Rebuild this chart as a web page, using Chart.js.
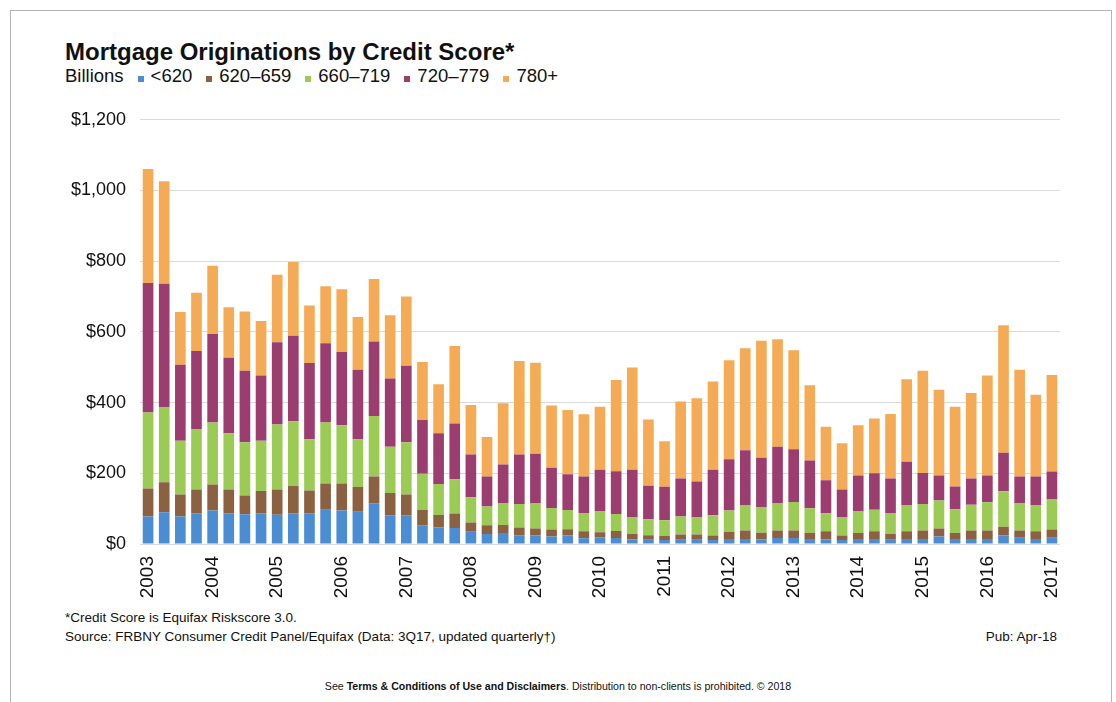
<!DOCTYPE html>
<html>
<head>
<meta charset="utf-8">
<script src="https://cdn.jsdelivr.net/npm/chart.js@4.4.1/dist/chart.umd.min.js"></script>
<style>
  body { margin: 0; width: 1116px; height: 702px; background: #fff; overflow: hidden; position: relative;
         font-family: 'Liberation Sans', Arial, sans-serif; color: #111; }
  .frame { position: absolute; left: 10px; top: 10px; width: 1100px; height: 720px; border: 1px solid #b4b4b4; }
  .title { position: absolute; left: 65px; top: 40px; font-size: 24px; line-height: 24px; font-weight: bold; }
  .legend { position: absolute; left: 65px; top: 67px; font-size: 18.5px; line-height: 18.5px; white-space: nowrap; }
  .legend span { display: inline-block; }
  .legend .sw { width: 6px; height: 6px; margin: 0 7px 0 0; }
  .legend .item { margin-left: 14px; }
  .note { position: absolute; font-size: 13.5px; line-height: 14px; white-space: nowrap; }
  .terms { position: absolute; left: 0; width: 1116px; top: 680px; text-align: center; font-size: 10.6px; line-height: 12px; }
  #chart { position: absolute; left: 30px; top: 95px; }
</style>
</head>
<body>
<div class="frame"></div>
<div class="title">Mortgage Originations by Credit Score*</div>
<div class="legend" id="legend">Billions</div>
<canvas id="chart" width="1060" height="509"></canvas>
<div class="note" style="left:65px; top:611px;">*Credit Score is Equifax Riskscore 3.0.</div>
<div class="note" style="left:65px; top:630px;">Source: FRBNY Consumer Credit Panel/Equifax (Data: 3Q17, updated quarterly†)</div>
<div class="note" style="right:59px; top:630px;">Pub: Apr-18</div>
<div class="terms">See <b>Terms &amp; Conditions of Use and Disclaimers</b>. Distribution to non-clients is prohibited. © 2018</div>
<script>
// quarters 2003Q3 .. 2017Q3, year label shown on every Q3
const quarters = [
  '2003Q3','2003Q4',
  '2004Q1','2004Q2','2004Q3','2004Q4',
  '2005Q1','2005Q2','2005Q3','2005Q4',
  '2006Q1','2006Q2','2006Q3','2006Q4',
  '2007Q1','2007Q2','2007Q3','2007Q4',
  '2008Q1','2008Q2','2008Q3','2008Q4',
  '2009Q1','2009Q2','2009Q3','2009Q4',
  '2010Q1','2010Q2','2010Q3','2010Q4',
  '2011Q1','2011Q2','2011Q3','2011Q4',
  '2012Q1','2012Q2','2012Q3','2012Q4',
  '2013Q1','2013Q2','2013Q3','2013Q4',
  '2014Q1','2014Q2','2014Q3','2014Q4',
  '2015Q1','2015Q2','2015Q3','2015Q4',
  '2016Q1','2016Q2','2016Q3','2016Q4',
  '2017Q1','2017Q2','2017Q3'
];
const yTicks = [0, 200, 400, 600, 800, 1000, 1200];

const seriesNames = ['<620', '620–659', '660–719', '720–779', '780+'];
const seriesColors = ['#4a8dd2', '#8c6142', '#9bcb55', '#9c3d70', '#f5ab55'];

// billions of dollars, per quarter
const lt620 = [78,90,78,87,95,87,84,87,83,87, 87,97,95,91,115,81,81,53,47,45,
  35,28,31,25,24,21,24,16,19,17, 13,12,11,12,12,11,14,14,13,17,
  17,14,13,11,14,14,12,14,14,21, 14,14,14,24,18,14,18];
const s620_659 = [79,85,62,67,73,67,53,63,71,77, 64,74,76,70,76,63,59,43,35,41,
  26,25,23,22,20,20,18,20,14,20, 15,13,12,15,15,13,21,24,19,21,
  21,18,23,13,17,22,16,22,24,23, 17,24,24,25,20,22,23];
const s660_719 = [215,211,152,170,176,159,151,142,184,183, 145,173,165,135,171,131,148,103,88,97,
  71,53,62,66,72,61,54,52,59,48, 47,45,44,51,48,57,60,72,71,78,
  81,69,51,51,61,61,58,74,75,79, 67,73,80,100,78,74,85];
const s720_779 = [366,350,215,222,250,214,202,185,233,242, 216,224,207,197,211,193,216,152,143,158,
  121,85,109,140,139,114,101,103,118,121, 135,95,95,107,102,129,145,155,141,159,
  149,135,93,79,102,103,99,123,88,71, 65,74,76,109,75,81,79];
const s780plus = [323,290,149,165,193,143,168,154,191,209, 163,161,178,149,177,179,196,164,139,219,
  140,112,173,265,258,176,182,176,178,258, 289,187,129,218,235,250,280,289,331,304,
  280,213,152,131,142,155,183,233,289,242, 225,242,283,361,302,231,273];

const seriesData = [lt620, s620_659, s660_719, s720_779, s780plus];

// legend
const legend = document.getElementById('legend');
seriesNames.forEach((name, i) => {
  const item = document.createElement('span');
  item.className = 'item';
  item.innerHTML = '<span class="sw" style="background:' + seriesColors[i] + '"></span>' + name;
  legend.appendChild(item);
});

const fontFamily = "'Liberation Sans', Arial, sans-serif";

new Chart(document.getElementById('chart'), {
  type: 'bar',
  data: {
    labels: quarters,
    datasets: seriesData.map((d, i) => ({
      label: seriesNames[i],
      data: d,
      backgroundColor: seriesColors[i],
      borderWidth: 0,
      categoryPercentage: 1,
      barPercentage: 0.66
    }))
  },
  options: {
    responsive: false,
    animation: false,
    layout: { padding: { top: 22, right: 30, left: 0, bottom: 0 } },
    plugins: { legend: { display: false }, tooltip: { enabled: false } },
    scales: {
      x: {
        stacked: true,
        grid: { display: false },
        border: { display: false },
        afterFit: s => { s.height = 60; },
        ticks: {
          autoSkip: false,
          minRotation: 90,
          maxRotation: 90,
          padding: 4,
          color: '#111',
          font: { family: fontFamily, size: 19 },
          callback: (v, i) => quarters[i].endsWith('Q3') ? quarters[i].slice(0, 4) : ''
        }
      },
      y: {
        stacked: true,
        min: 0,
        max: 1200,
        afterFit: s => { s.width = 110; },
        afterBuildTicks: s => { s.ticks = yTicks.map(v => ({ value: v })); },
        grid: { color: '#dadada', lineWidth: 1, drawTicks: false },
        border: { display: false },
        ticks: {
          padding: 14,
          color: '#111',
          font: { family: fontFamily, size: 18 },
          callback: v => '$' + v.toLocaleString('en-US')
        }
      }
    }
  }
});
</script>
</body>
</html>
